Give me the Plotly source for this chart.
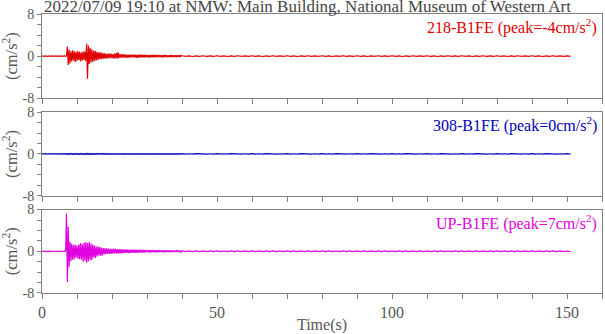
import numpy as np
import plotly.graph_objects as go
from plotly.subplots import make_subplots

# ---------------- data (values read/estimated from the picture) ----------------
title_text = "2022/07/09 19:10 at NMW: Main Building, National Museum of Western Art"
channels = ["218-B1FE", "308-B1FE", "UP-B1FE"]
peaks = [-4, 0, 7]
colors = ["#e00000", "#0000b4", "#e000e0"]

# quiet head: 0 .. 5.5 s every 0.5 s
head_red = [0.05, -0.05, 0.04, -0.05, 0.05, -0.04, 0.05, -0.05, 0.04, -0.05, 0.05, -0.05]
head_blue = [0.05, -0.05, 0.05, -0.04, 0.05, -0.05, 0.04, -0.05, 0.05, -0.05, 0.04, -0.05]
head_mag = [0.05, -0.05, 0.05, -0.05, 0.04, -0.05, 0.05, -0.04, 0.05, -0.05, 0.05, -0.05]

# active window: from 6.0 s every 0.25 s
act_red = [
    0.05, -0.05, 0.06, -0.05,            # 6
    0.08, 1.8, -1.7, 1.2,                # 7
    -1.4, 0.9, -1.0, 1.1,                # 8
    -0.8, 0.9, -1.1, 0.8,                # 9
    -0.9, 1.0, -0.7, 0.8,                # 10
    -1.0, 0.7, -0.8, 0.9,                # 11
    -0.7, 0.8, -0.9, 2.4,                # 12
    -4.3, 2.0, -1.5, 1.6,                # 13
    -1.2, 1.3, -1.1, 1.0,                # 14
    -0.9, 1.0, -0.8, 0.8,                # 15
    -0.7, 0.7, -0.6, 0.7,                # 16
    -0.6, 0.6, -0.5, 0.6,                # 17
    -0.5, 0.5, -0.5, 0.5,                # 18
    -0.4, 0.5, -0.4, 0.5,                # 19
    -0.4, 0.4, -0.5, 0.5,                # 20
    -0.4, 0.6, -0.5, 0.7,                # 21
    -0.4, 0.4, -0.3, 0.4,                # 22
    -0.3, 0.35, -0.3, 0.35,              # 23
    -0.3, 0.3, -0.35, 0.3,               # 24
    -0.3, 0.3, -0.25, 0.3,               # 25
    -0.25, 0.3, -0.25, 0.25,             # 26
    -0.3, 0.25, -0.25, 0.25,             # 27
    -0.25, 0.25, -0.2, 0.25,             # 28
    -0.2, 0.25, -0.25, 0.2,              # 29
    -0.2, 0.2, -0.25, 0.2,               # 30
    -0.2, 0.2, -0.2, 0.25,               # 31
    -0.2, 0.2, -0.2, 0.2,                # 32
    -0.2, 0.2, -0.15, 0.2,               # 33
    -0.2, 0.15, -0.2, 0.2,               # 34
    -0.15, 0.2, -0.15, 0.15,             # 35
    -0.2, 0.15, -0.15, 0.2,              # 36
    -0.15, 0.15, -0.15, 0.15,            # 37
    -0.15, 0.15, -0.2, 0.15,             # 38
    -0.15, 0.15, -0.15, 0.15,            # 39
]
act_blue = [
    0.05, -0.05, 0.05, -0.05,
    0.06, -0.08, 0.07, -0.08,
    0.08, -0.07, 0.08, -0.08,
    0.07, -0.08, 0.08, -0.07,
    0.08, -0.08, 0.07, -0.08,
    0.08, -0.07, 0.08, -0.08,
    0.07, -0.08, 0.08, -0.1,
    0.1, -0.09, 0.08, -0.08,
    0.08, -0.08, 0.07, -0.08,
    0.07, -0.07, 0.07, -0.07,
    0.06, -0.07, 0.06, -0.06,
    0.06, -0.06, 0.06, -0.06,
    0.06, -0.06, 0.05, -0.06,
    0.05, -0.06, 0.05, -0.05,
    0.05, -0.05, 0.06, -0.05,
    0.06, -0.05, 0.05, -0.05,
    0.05, -0.05, 0.05, -0.05,
    0.05, -0.05, 0.05, -0.05,
    0.05, -0.05, 0.05, -0.05,
    0.05, -0.05, 0.05, -0.05,
    0.05, -0.05, 0.05, -0.05,
    0.05, -0.05, 0.05, -0.05,
    0.05, -0.05, 0.05, -0.05,
    0.05, -0.05, 0.05, -0.05,
    0.05, -0.05, 0.05, -0.05,
    0.05, -0.05, 0.05, -0.05,
    0.05, -0.05, 0.05, -0.05,
    0.05, -0.05, 0.05, -0.05,
    0.05, -0.05, 0.05, -0.05,
    0.05, -0.05, 0.05, -0.05,
    0.05, -0.05, 0.05, -0.05,
    0.05, -0.05, 0.05, -0.05,
    0.05, -0.05, 0.05, -0.05,
    0.05, -0.05, 0.05, -0.05,
]
act_mag = [
    0.05, -0.05, 0.05, -0.06,            # 6
    7.2, -5.9, 4.7, -3.0,                # 7
    1.8, -1.9, 1.5, -1.6,                # 8
    1.2, -1.5, 1.3, -1.2,                # 9
    1.1, -1.4, 1.3, -1.5,                # 10
    1.6, -1.6, 1.4, -2.0,                # 11
    1.7, -1.8, 1.8, -2.2,                # 12
    1.6, -1.9, 1.8, -1.6,                # 13
    1.5, -1.7, 1.3, -1.2,                # 14
    1.1, -1.3, 0.9, -1.0,                # 15
    0.9, -0.8, 0.8, -0.9,                # 16
    0.7, -0.8, 0.6, -0.6,                # 17
    0.6, -0.55, 0.55, -0.5,              # 18
    0.5, -0.5, 0.45, -0.5,               # 19
    0.45, -0.45, 0.5, -0.4,              # 20
    0.45, -0.4, 0.4, -0.45,              # 21
    0.4, -0.4, 0.35, -0.4,               # 22
    0.35, -0.35, 0.35, -0.3,             # 23
    0.35, -0.3, 0.3, -0.35,              # 24
    0.3, -0.3, 0.3, -0.3,                # 25
    0.3, -0.25, 0.3, -0.3,               # 26
    0.25, -0.3, 0.25, -0.25,             # 27
    0.3, -0.25, 0.25, -0.25,             # 28
    0.25, -0.25, 0.25, -0.2,             # 29
    0.25, -0.2, 0.2, -0.25,              # 30
    0.2, -0.2, 0.25, -0.2,               # 31
    0.2, -0.2, 0.2, -0.2,                # 32
    0.2, -0.2, 0.2, -0.15,               # 33
    0.2, -0.15, 0.2, -0.2,               # 34
    0.15, -0.2, 0.15, -0.15,             # 35
    0.2, -0.15, 0.15, -0.2,              # 36
    0.15, -0.15, 0.15, -0.15,            # 37
    0.15, -0.15, 0.2, -0.15,             # 38
    0.15, -0.15, 0.15, -0.15,            # 39
]

# quiet tail: 40 .. 151 s every 1 s
tail_red = [0.07, -0.06, 0.06, -0.07, 0.06, -0.06, 0.07, -0.06, 0.06, -0.05] * 11 + [0.05, -0.05]
tail_blue = [0.04, -0.04, 0.03, -0.04, 0.04, -0.03, 0.04, -0.04, 0.03, -0.04] * 11 + [0.04, -0.04]
tail_mag = [0.07, -0.07, 0.06, -0.07, 0.07, -0.06, 0.06, -0.06, 0.07, -0.05] * 11 + [0.05, -0.05]

heads = [head_red, head_blue, head_mag]
acts = [act_red, act_blue, act_mag]
tails = [tail_red, tail_blue, tail_mag]

x_tickvals = list(range(0, 161, 10))
x_ticktext = [str(v) if v % 50 == 0 else "" for v in x_tickvals]
y_tickvals = list(range(-8, 9, 2))
y_ticktext = [str(v) if v in (-8, 0, 8) else "" for v in y_tickvals]

# ---------------- figure ----------------
FONT = "Liberation Serif"
AXC = "#808080"
TXC = "#555555"

fig = make_subplots(rows=3, cols=1, vertical_spacing=0.05, shared_xaxes=False)

for k in range(3):
    h, a, tl = heads[k], acts[k], tails[k]
    t = np.concatenate([
        0.5 * np.arange(len(h)),
        6.0 + 0.25 * np.arange(len(a)),
        40.0 + 1.0 * np.arange(len(tl)),
    ])
    y = np.concatenate([h, a, tl])
    fig.add_trace(go.Scatter(x=t, y=y, mode="lines",
                             line=dict(color=colors[k], width=1.2),
                             showlegend=False, hoverinfo="skip"),
                  row=k + 1, col=1)

domains = [[0.698, 1.0], [0.349, 0.648], [0.0, 0.299]]
for k in range(3):
    xa = "xaxis" if k == 0 else f"xaxis{k+1}"
    ya = "yaxis" if k == 0 else f"yaxis{k+1}"
    fig.layout[xa].update(
        range=[0, 160], tickmode="array", tickvals=x_tickvals, ticktext=x_ticktext,
        showticklabels=(k == 2), ticks="outside", ticklen=5, tickcolor=AXC,
        showline=True, linecolor=AXC, linewidth=1, mirror=True, showgrid=False,
        zeroline=False, tickfont=dict(family=FONT, size=16, color=TXC),
    )
    fig.layout[ya].update(
        domain=domains[k], range=[-8, 8], tickmode="array",
        tickvals=y_tickvals, ticktext=y_ticktext,
        ticks="outside", ticklen=4, tickcolor=AXC,
        showline=True, linecolor=AXC, linewidth=1, mirror=True, showgrid=False,
        zeroline=False, tickfont=dict(family=FONT, size=14, color=TXC),
        title=dict(text="(cm/s<sup>2</sup>)", font=dict(family=FONT, size=16.5, color=TXC),
                   standoff=5),
    )
    fig.add_annotation(
        text=f"{channels[k]} (peak={peaks[k]}cm/s<sup>2</sup>)",
        xref="x domain" if k == 0 else f"x{k+1} domain",
        yref="y domain" if k == 0 else f"y{k+1} domain",
        x=0.995, y=1.0, xanchor="right", yanchor="top", showarrow=False,
        font=dict(family=FONT, size=16, color=colors[k]),
    )

fig.layout.xaxis3.title = dict(text="Time(s)", font=dict(family=FONT, size=16, color=TXC),
                               standoff=0)

fig.add_annotation(text=title_text, xref="paper", yref="paper", x=0.0, y=1.0,
                   xanchor="left", yanchor="bottom", yshift=-4, showarrow=False,
                   font=dict(family=FONT, size=17, color="#444444"))

fig.update_layout(
    width=605, height=334,
    margin=dict(l=42, r=2, t=14, b=39),
    paper_bgcolor="white", plot_bgcolor="white",
)

fig.write_html("out.html")
